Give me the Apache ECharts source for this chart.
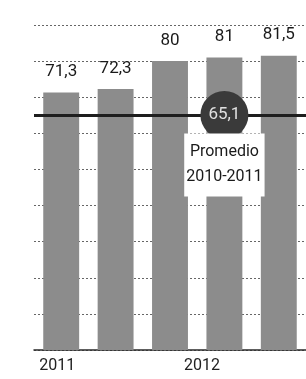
<!DOCTYPE html>
<html>
<head>
<meta charset="utf-8">
<script src="https://cdn.jsdelivr.net/npm/echarts@6/dist/echarts.min.js"></script>
<style>
  html, body { margin: 0; padding: 0; background: #fff; }
  #chart { width: 306px; height: 379px; }
</style>
</head>
<body>
<div id="chart"></div>
<script>
// datos
var categories = ["2011", "2012-T1", "2012-T2", "2012-T3", "2012-T4"];
var values = [71.3, 72.3, 80, 81, 81.5];
var tickLabels = ["2011", "", "2012", "", ""];
var promedio = 65.1;
var promedioText = ["Promedio", "2010-2011"];

var FONT = 'Roboto, "Liberation Sans", sans-serif';

function coma(v){
    return String(v).replace(".", ",");
}

var myChart = echarts.init(document.getElementById("chart"));

var option = {
    backgroundColor: "#fff",
    animation: false,
    grid: { left: 34, right: -11, top: 25, bottom: 29 },
    xAxis: {
        type: "category",
        data: categories,
        axisTick: { show: false },
        axisLine: { show: true, lineStyle: { color: "#2a2a2a", width: 1.5 } },
        axisLabel: {
            interval: 0,
            margin: 8,
            formatter: function (v, i) {
                if (!tickLabels[i]) return "";
                return (i === 0 ? "{a|" : "{b|") + tickLabels[i] + "}";
            },
            rich: {
                a: { fontFamily: FONT, fontSize: 16, color: "#222", padding: [0, 8, 0, 0] },
                b: { fontFamily: FONT, fontSize: 16, color: "#222", padding: [0, 0, 0, 64] }
            }
        }
    },
    yAxis: {
        type: "value",
        min: 0,
        max: 90,
        interval: 10,
        axisLabel: { show: false },
        axisLine: { show: false },
        axisTick: { show: false },
        splitLine: { show: true, lineStyle: { color: "#666", type: [2, 2], width: 1 } }
    },
    series: [{
        type: "bar",
        data: values,
        barWidth: "66%",
        itemStyle: { color: "#8c8c8c" },
        label: {
            show: true,
            position: "top",
            distance: 12,
            fontFamily: FONT,
            fontSize: 17,
            color: "#1a1a1a",
            formatter: function (p) { return coma(p.value); }
        },
        markLine: {
            silent: true,
            symbol: "none",
            label: { show: false },
            lineStyle: { color: "#1e1e1e", width: 3, type: "solid" },
            data: [{ yAxis: promedio }]
        },
        markPoint: {
            silent: true,
            data: [{
                coord: [categories[3], promedio],
                symbol: "circle",
                symbolSize: 48,
                itemStyle: { color: "#3a3a3a" },
                label: {
                    show: true,
                    position: "inside",
                    formatter: coma(promedio),
                    fontFamily: FONT,
                    fontSize: 17,
                    color: "#e0e0e0"
                }
            }, {
                coord: [categories[3], promedio],
                symbol: "rect",
                symbolSize: 0,
                label: {
                    show: true,
                    position: "inside",
                    offset: [0, 50],
                    formatter: promedioText.join("\n"),
                    fontFamily: FONT,
                    fontSize: 16,
                    lineHeight: 25,
                    color: "#1a1a1a",
                    backgroundColor: "#fff",
                    padding: [7, 2, 6, 2]
                }
            }]
        }
    }]
};

myChart.setOption(option);
</script>
</body>
</html>
